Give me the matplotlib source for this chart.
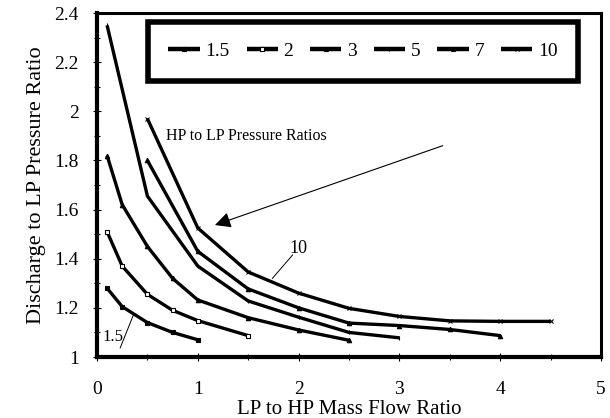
import matplotlib
matplotlib.use("Agg")
import matplotlib.pyplot as plt
from matplotlib.ticker import MultipleLocator

# ── DATA ──────────────────────────────────────────────────────────────────────
ratio_labels = ["1.5", "2", "3", "5", "7", "10"]

x_15 = [0.1, 0.25, 0.5, 0.75, 1.0]
y_15 = [1.28, 1.205, 1.14, 1.10, 1.07]

x_2 = [0.1, 0.25, 0.5, 0.75, 1.0, 1.5]
y_2 = [1.51, 1.37, 1.255, 1.19, 1.148, 1.087]

x_3 = [0.1, 0.25, 0.5, 0.75, 1.0, 1.5, 2.0, 2.5]
y_3 = [1.82, 1.62, 1.45, 1.32, 1.232, 1.16, 1.11, 1.068]

x_5 = [0.1, 0.5, 1.0, 1.5, 2.0, 2.5, 3.0]
y_5 = [2.35, 1.655, 1.37, 1.228, 1.162, 1.10, 1.078]

x_7 = [0.5, 1.0, 1.5, 2.0, 2.5, 3.0, 3.5, 4.0]
y_7 = [1.80, 1.43, 1.277, 1.20, 1.138, 1.128, 1.112, 1.087]

x_10 = [0.5, 1.0, 1.5, 2.0, 2.5, 3.0, 3.5, 4.0, 4.5]
y_10 = [1.97, 1.525, 1.346, 1.26, 1.198, 1.165, 1.147, 1.145, 1.145]

series_x = [x_15, x_2, x_3, x_5, x_7, x_10]
series_y = [y_15, y_2, y_3, y_5, y_7, y_10]
# ──────────────────────────────────────────────────────────────────────────────

plt.rcParams["font.family"] = ["Liberation Serif", "DejaVu Serif"]

markers = ["s", "s", "^", "|", "^", "x"]
mfc = ["black", "white", "black", "black", "black", "black"]

fig = plt.figure(figsize=(6.1, 4.18), dpi=100)
ax = fig.add_axes([97 / 610, 1 - 357 / 418, 504 / 610, 344 / 418])

for xs, ys, lab, m, fc in zip(series_x, series_y, ratio_labels, markers, mfc):
    ax.plot(xs, ys, color="black", lw=2.4, marker=m, ms=3.2,
            mfc=fc, mec="black", mew=0.8, label=lab, solid_capstyle="butt")

ax.set_xlim(0, 5)
ax.set_ylim(1, 2.4)
ax.xaxis.set_major_locator(MultipleLocator(1))
ax.xaxis.set_minor_locator(MultipleLocator(0.5))
ax.yaxis.set_minor_locator(MultipleLocator(0.1))
ax.set_yticks([1, 1.2, 1.4, 1.6, 1.8, 2, 2.2, 2.4])
ax.set_yticklabels(["1", "1.2", "1.4", "1.6", "1.8", "2", "2.2", "2.4"])

ax.tick_params(which="both", direction="inout", length=6, width=0.8,
               labelsize=14, colors="black")
ax.tick_params(axis="x", which="major", pad=14)
ax.tick_params(axis="y", which="major", pad=10)
ax.tick_params(which="minor", length=5)

for side in ["left", "bottom"]:
    ax.spines[side].set_linewidth(3.0)
for side in ["top", "right"]:
    ax.spines[side].set_linewidth(2.2)

ax.set_xlabel("LP to HP Mass Flow Ratio", fontsize=15, labelpad=2)
ax.set_ylabel("Discharge to LP Pressure Ratio", fontsize=16, labelpad=6)

# legend box sits at px x 148-578, y 23-80 in the original
leg = ax.legend(loc="center", ncol=6, mode="expand", borderaxespad=0,
                bbox_to_anchor=((148 - 97) / 504, (357 - 80) / 344,
                                (578 - 148) / 504, 57 / 344),
                fontsize=14, handlelength=1.6, handletextpad=0.3,
                columnspacing=0.8, borderpad=1.05, fancybox=False,
                framealpha=1, edgecolor="black", markerscale=0.9)
leg.get_frame().set_linewidth(4.0)
for line in leg.get_lines():
    line.set_linewidth(3.2)

# annotations
ax.text(0.68, 1.90, "HP to LP Pressure Ratios", fontsize=11.5, va="center")
ax.annotate("", xy=(1.17, 1.537), xytext=(3.43, 1.86),
            arrowprops=dict(arrowstyle="-|>", mutation_scale=24, lw=0.8,
                            color="black", shrinkA=0, shrinkB=0))
ax.text(2.0, 1.44, "10", fontsize=13, ha="center", va="center")
ax.plot([1.94, 1.74], [1.415, 1.32], color="black", lw=0.7)
ax.text(0.16, 1.08, "1.5", fontsize=12, ha="center", va="center")
ax.plot([0.23, 0.36], [1.037, 1.17], color="black", lw=0.7)

fig.savefig("out.png", dpi=100)
